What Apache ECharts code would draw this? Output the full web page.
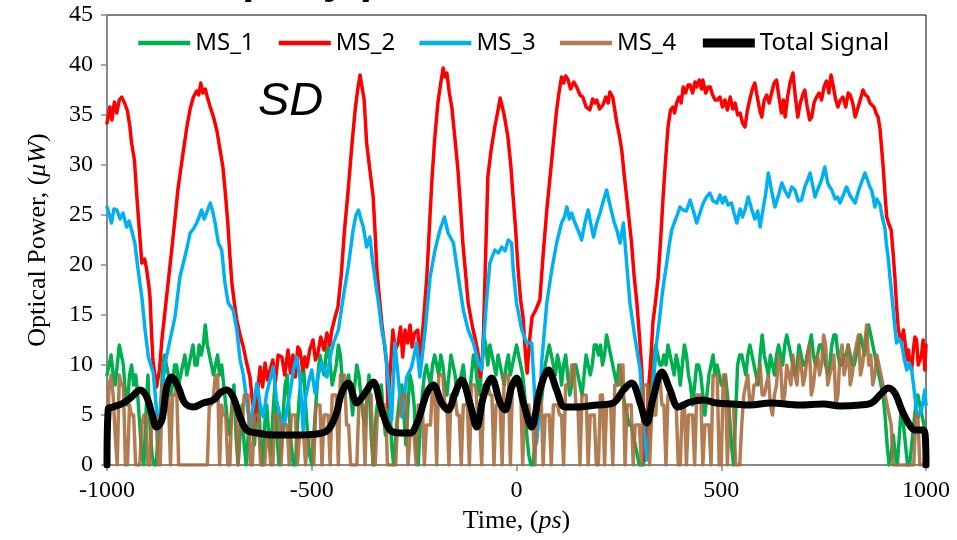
<!DOCTYPE html>
<html>
<head>
<meta charset="utf-8">
<script src="https://cdn.jsdelivr.net/npm/echarts@6/dist/echarts.min.js"></script>
<style>
  html, body { margin: 0; padding: 0; background: #fff; }
  #main { width: 957px; height: 540px; }
</style>
</head>
<body>
<div id="main"></div>
<script>
// time grid for the noisy traces (ps)
var gridStart = -1000;
var gridStep = 5;

// MS_1, read every 5 ps (first value at -1000, then one row per 100 ps)
var ms1Values = [9,
  10,11,9,8,10,12,11,10,7,6,9,10,8,9,7,4,1,0,5,9,
  4,1,0,0,3,5,9,11,10,9,7,8,10,10,8,9,10,11,9,10,
  11,12,10,10,12,11,12,14,12,11,10,9,10,11,9,10,8,6,4,3,
  6,8,3,0,3,6,2,0,3,5,4,2,5,7,2,0,4,6,3,1,
  5,8,3,0,2,5,8,9,5,2,0,0,4,7,9,10,6,3,1,0,
  3,6,9,11,10,9,11,12,10,8,9,10,12,11,8,7,8,9,7,5,
  8,10,9,7,5,4,7,9,3,0,4,6,7,8,5,3,5,7,2,0,
  3,5,7,8,5,2,6,9,8,6,2,0,4,7,9,10,9,8,10,11,
  10,9,11,10,8,7,9,11,10,9,7,8,9,10,8,6,7,9,11,10,
  8,7,10,13,12,10,12,11,10,9,11,10,9,8,10,11,9,10,11,12,
  11,10,9,7,3,1,0,0,2,3,5,6,8,10,11,12,11,10,9,11,
  10,8,10,11,9,7,8,10,10,9,8,7,9,11,10,9,10,12,12,11,
  12,10,11,13,12,11,10,9,8,10,9,7,6,5,4,4,3,2,1,0,
  0,0,2,4,7,9,11,12,11,10,10,11,10,12,11,10,9,11,10,8,
  10,12,11,9,8,6,8,10,10,9,7,5,7,9,10,11,9,10,9,8,
  8,9,7,5,2,0,5,10,11,11,10,9,11,12,11,10,9,8,11,13,
  11,10,9,11,10,9,11,12,11,10,12,13,12,11,10,9,10,12,11,10,
  10,11,12,13,11,10,11,12,12,11,10,9,10,12,13,13,11,10,10,11,
  11,12,11,10,10,11,12,13,12,11,13,14,13,12,11,10,9,8,7,5,
  2,0,1,3,1,0,3,6,4,2,0,0,2,4,6,7,6,5,4,3
];

// MS_4, read every 5 ps
var ms4Values = [0,
  8,9,7,3,0,9,8,8,0,0,6,5,5,0,0,0,4,5,5,0,
  0,5,5,5,0,0,8,8,7,7,0,7,7,8,0,0,0,0,0,0,
  0,0,0,0,0,0,0,0,0,6,6,7,9,9,0,6,5,5,0,0,
  6,6,6,0,4,4,7,7,7,0,0,5,5,5,0,0,0,3,3,0,
  0,5,5,5,0,4,4,4,0,5,5,5,0,3,3,3,0,3,3,3,
  0,6,6,6,0,5,5,5,0,7,7,7,0,9,9,9,4,4,0,0,
  0,0,6,6,6,0,7,7,7,0,0,5,5,6,6,6,0,0,0,0,
  0,5,5,7,7,7,0,3,3,3,0,6,6,6,0,4,4,4,8,8,
  0,9,9,9,6,6,0,7,7,7,5,5,0,6,6,6,0,8,8,8,
  5,5,0,8,8,8,7,7,0,6,6,6,0,9,9,9,0,8,8,8,
  8,8,0,6,6,6,4,4,0,7,7,7,0,5,5,5,0,6,6,6,
  5,5,0,8,8,8,10,10,6,6,0,7,7,7,0,5,5,5,0,0,
  7,7,0,6,6,6,0,8,8,8,10,10,0,6,6,6,0,4,4,4,
  0,8,8,8,0,5,5,5,9,9,6,6,0,7,7,7,6,6,0,0,
  6,6,0,5,5,5,0,7,7,7,0,4,4,4,0,9,9,9,0,0,
  9,9,0,6,6,6,0,0,0,4,7,8,9,6,6,8,8,9,10,7,
  7,8,9,6,5,7,8,11,10,6,7,10,9,8,11,9,8,11,10,8,
  9,11,12,7,8,10,11,9,10,13,12,8,9,10,11,6,7,11,12,9,
  10,12,8,9,11,12,13,9,10,12,14,10,11,8,9,11,10,9,8,7,
  6,5,4,0,0,0,0,0,0,0,0,0,0,0,5,5,0,0,0,0
];

// MS_2 [time, power]
var ms2Points = [
  [-1000,34.2],[-993,35.8],[-988,34.5],[-982,36.3],[-976,35.2],[-970,36.5],[-964,36.8],[-957,36.2],
  [-950,35.4],[-944,33.8],[-940,32.2],[-933,30.5],[-927,26.8],[-921,23.5],[-915,20.2],[-908,20.6],
  [-903,19.5],[-898,18],[-895,16.8],[-891,13],[-888,10.5],[-879,7.8],[-872,9.5],[-866,12.5],
  [-858,15.5],[-850,18.5],[-842,21.5],[-835,24.2],[-827,27.5],[-815,31],[-805,33.8],[-797,35.6],
  [-789,36.8],[-781,37.4],[-776,37],[-771,38.2],[-766,37.2],[-760,37.6],[-755,36.8],[-748,35.8],
  [-740,34.8],[-732,33.5],[-725,31.8],[-717,29.8],[-711,27.2],[-705,24.2],[-700,21],[-695,18.2],
  [-689,16.2],[-683,14.5],[-675,13],[-667,11.8],[-659,10.2],[-651,8.8],[-645,6.5],[-638,4.5],
  [-632,7.5],[-626,9.8],[-620,7.8],[-614,10.2],[-608,8.5],[-602,9.5],[-595,10.5],[-589,8.2],
  [-582,11],[-573,10.8],[-566,9],[-558,11.5],[-552,9.2],[-546,11],[-540,8.8],[-534,11.8],
  [-529,11.5],[-522,9.5],[-517,10.8],[-512,9.8],[-505,11.5],[-497,12.5],[-491,10.5],[-485,11.2],
  [-478,12.8],[-470,11.5],[-463,13.2],[-456,12],[-451,13.5],[-443,14.8],[-436,15.8],[-428,19],
  [-420,23.5],[-411,27.5],[-402,32],[-394,35.5],[-388,37.5],[-382,39],[-378,38],[-372,36.5],
  [-366,32.2],[-358,29.5],[-350,26.8],[-345,23],[-341,19.5],[-335,16.8],[-329,14.2],[-323,12.2],
  [-317,10.2],[-314,5.8],[-309,9],[-302,13.5],[-296,11.5],[-289,12.2],[-283,13.8],[-278,10.8],
  [-272,13.5],[-266,12.2],[-260,14],[-255,11.8],[-249,13.2],[-241,13.5],[-236,10.2],[-233,11.5],
  [-226,15],[-219,18.8],[-213,23.5],[-207,28.2],[-200,32.5],[-192,36.2],[-185,38.2],[-179,39.7],
  [-175,38.8],[-170,39.2],[-164,37.2],[-158,35.8],[-150,32.5],[-143,29.5],[-137,26],[-131,22.2],
  [-124,19],[-118,16.2],[-112,14.8],[-106,13.5],[-100,12.5],[-94,11.2],[-89,8.8],[-85,9.8],
  [-82,11.2],[-76,20],[-70,28.8],[-62,31.5],[-53,33.8],[-45,35.5],[-40,36.7],[-36,36.5],
  [-30,35],[-21,32.8],[-14,30],[-9,27.2],[-2,23.5],[4,19.5],[10,16.5],[16,14.8],
  [22,11],[26,9.2],[32,12.5],[38,14.8],[47,15.5],[57,16.5],[65,21],[74,25.5],
  [80,28],[86,30.5],[92,33],[98,35.5],[104,37.3],[110,38.8],[115,38.2],[120,38.9],
  [126,38.5],[132,37.6],[140,38.3],[147,37.8],[155,37],[162,36.8],[170,35.8],[179,35.5],
  [186,36.6],[192,36.2],[196,36.5],[203,35.6],[211,36],[218,36.8],[224,36.2],[228,37.3],
  [235,36.8],[240,35.5],[245,34.2],[251,33],[257,31.5],[263,29],[269,26.8],[275,24.5],
  [281,22.2],[287,19],[294,16.2],[300,13],[306,9.5],[310,5],[314,0.5],[318,3],
  [322,7.5],[326,9.5],[330,12],[333,14.2],[340,16.5],[346,18.8],[352,22.5],[358,26.8],
  [364,30.5],[370,33.8],[376,35.5],[382,35.8],[386,35.2],[391,36.2],[397,36.8],[402,36.2],
  [407,37.8],[413,37.2],[419,38],[424,38],[430,37.2],[436,38.3],[440,37.8],[446,38.5],
  [452,37.6],[455,38.5],[462,37.2],[468,37.8],[473,37.8],[479,37],[485,36.5],[490,36.5],
  [497,36.8],[503,35.8],[509,36.5],[515,35.5],[522,36.8],[528,35.6],[534,36.2],[540,35],
  [546,35.2],[552,34.2],[558,33.8],[564,35.5],[570,36.6],[576,37.6],[582,38.2],[588,36.8],
  [594,35.5],[599,34.8],[605,36.5],[611,37],[617,36.2],[623,37.2],[629,38.2],[635,38.5],
  [641,36.8],[647,35.2],[652,36.5],[656,34.8],[662,36.8],[668,38.2],[675,39.2],[681,36.8],
  [687,34.8],[693,36.2],[699,37],[704,37.5],[710,35.8],[716,34.5],[721,34.8],[727,36.3],
  [733,36.8],[739,37.2],[745,36.5],[751,37.8],[757,38.4],[763,37.2],[768,39],[773,38],
  [779,36.6],[785,35.8],[791,36.5],[797,36.8],[804,35.8],[810,37.2],[815,37],[821,36.2],
  [827,34.8],[833,35.6],[840,36.6],[846,37.5],[852,37],[858,36.8],[863,36.2],[867,36.2],
  [873,35.8],[878,35.2],[883,34.8],[888,33.5],[892,31.5],[896,29.5],[900,27],[904,24.8],
  [910,24],[915,23.5],[920,21],[924,18.8],[928,16],[932,13.8],[936,12.8],[941,12.5],
  [945,13.5],[949,12.2],[953,10.5],[957,11.5],[961,9.8],[965,9.5],[969,11.5],[973,12.8],
  [977,12.5],[981,10],[985,9.8],[989,11],[993,12.5],[997,9.5],[1000,12]
];

// MS_3 [time, power]
var ms3Points = [
  [-1000,25.8],[-994,25],[-989,24.2],[-983,25.6],[-976,25.5],[-968,24.6],[-961,25.2],[-952,23.8],
  [-946,24.4],[-940,23.5],[-932,22.2],[-924,19.5],[-915,16.8],[-907,13.5],[-899,10.8],[-887,9.2],
  [-879,5.5],[-875,2.8],[-866,7.2],[-858,10.2],[-846,12.5],[-834,14.8],[-822,18.8],[-810,20.8],
  [-803,22],[-797,23.2],[-789,23.6],[-781,24.2],[-775,24.8],[-769,25.5],[-763,24.6],[-757,25.2],
  [-748,26.2],[-742,25.4],[-736,24.2],[-728,22.2],[-720,21.5],[-712,18.2],[-704,16.2],[-692,15.5],
  [-683,13.5],[-675,10.5],[-667,9],[-659,6.5],[-651,3.8],[-642,6],[-634,8.2],[-626,6],
  [-618,4.8],[-610,7.2],[-602,8.5],[-594,9.8],[-586,6.5],[-578,5],[-569,3.5],[-561,5.5],
  [-553,7.2],[-545,9.5],[-537,10.8],[-529,8.8],[-521,3.5],[-516,6.5],[-508,8.2],[-500,9.5],
  [-492,7.2],[-484,9],[-476,10.2],[-469,9.5],[-463,8.8],[-455,10.8],[-447,12.2],[-435,13.5],
  [-423,16.8],[-411,19.8],[-399,23.5],[-392,25],[-386,25.5],[-380,24.6],[-374,23.8],[-366,21.8],
  [-358,22.8],[-352,20.6],[-346,18.8],[-337,16.2],[-329,13.5],[-321,11.8],[-313,8.2],[-305,4.5],
  [-297,12.2],[-289,8.8],[-280,4.8],[-268,8.8],[-256,9.8],[-244,12.2],[-236,8.8],[-223,13.5],
  [-211,18.8],[-199,21.5],[-187,23.5],[-181,24.2],[-176,24.8],[-167,23.2],[-154,22.2],[-142,18.8],
  [-130,15.5],[-118,13.5],[-105,12.2],[-93,10.2],[-85,9.5],[-73,16.5],[-65,20.2],[-53,21.5],
  [-44,21.2],[-36,21.8],[-28,21.4],[-20,22.5],[-12,22.2],[-8,19.5],[0,16.2],[13,13.5],
  [25,12.2],[37,12.2],[43,8],[49,2.2],[56,6],[62,10.5],[74,16.2],[86,19.5],
  [98,22.2],[110,24.2],[117,24.8],[123,25.8],[129,24.6],[135,25.2],[141,24.4],[147,23.8],
  [153,23.2],[159,22.5],[167,24.2],[175,25.5],[182,24],[188,22.8],[196,24.2],[204,25.2],
  [212,26.4],[220,27.5],[226,26.4],[233,25.2],[239,24.2],[245,23.5],[253,22.2],[261,24.2],
  [269,20.2],[277,16.2],[289,12.8],[302,9.5],[310,4.5],[318,0.5],[324,3],[330,5.5],
  [336,9],[342,12.2],[349,14.5],[355,16.8],[361,18.6],[367,20.2],[373,22],[379,23.5],
  [385,24.2],[391,24.8],[399,25.8],[407,25.5],[415,25.4],[424,26.5],[432,25.4],[440,24.2],
  [448,25.2],[456,26.2],[464,26.8],[472,27.2],[480,26.4],[489,26.2],[497,27],[503,26.2],
  [509,26.8],[517,26],[525,26.2],[531,25.2],[538,24.2],[546,25.6],[552,24.8],[558,25.5],
  [566,26.8],[574,25.6],[582,24.6],[589,25.4],[595,23.8],[602,25.6],[608,27],[615,29.2],
  [623,27.4],[631,25.8],[640,27],[648,28.2],[656,27.4],[664,26.8],[672,27.8],[680,27.5],
  [688,26.4],[696,26.5],[704,27.8],[710,28.4],[717,29.2],[723,28],[729,26.8],[736,27.6],
  [744,28.4],[753,29.8],[760,28.2],[765,27.8],[770,27.5],[778,26.6],[784,26.8],[790,26.2],
  [798,27],[806,27.8],[814,27],[820,26.6],[827,26.2],[835,27.4],[842,28.2],[851,29.2],
  [858,28.4],[863,27.8],[867,27.5],[871,26.8],[875,25.8],[880,26.6],[884,26.8],[888,26],
  [892,25],[896,24.8],[900,23.6],[903,22.2],[908,20.6],[912,18.8],[916,17.2],[920,15.5],
  [924,13.8],[928,12.2],[934,12.6],[940,12.2],[946,10.8],[953,9.5],[959,10.2],[965,9.5],
  [969,8.2],[973,6.8],[977,5.6],[981,4.8],[985,5.2],[989,5.5],[993,6.4],[997,7.5],[1000,6]
];

// Total Signal [time, power]
var totalPoints = [
  [-1000,0],[-997,5.6],[-985,5.8],[-960,6.2],[-940,6.8],[-919,7.5],[-903,6.8],[-891,5.2],
  [-879,3.8],[-866,4.5],[-854,7.8],[-842,8.8],[-826,7.8],[-810,6.2],[-789,5.8],[-765,6.2],
  [-740,6.5],[-724,7.2],[-708,7.5],[-692,6.8],[-675,4.8],[-659,3.5],[-634,3.2],[-594,3.0],
  [-529,3.0],[-468,3.3],[-443,4.8],[-427,7.2],[-411,8.2],[-390,6.2],[-370,7.2],[-350,8.3],
  [-329,5.5],[-309,3.5],[-284,3.2],[-260,3.2],[-240,4.5],[-219,7.2],[-203,8.0],[-183,6.2],
  [-167,5.5],[-150,7.2],[-134,8.5],[-114,6.2],[-97,3.8],[-81,6.8],[-61,8.7],[-40,6.2],
  [-28,5.5],[-12,7.8],[0,8.7],[17,6.2],[37,3.8],[57,7.5],[78,9.5],[98,7.5],
  [118,5.8],[147,5.8],[196,6.0],[236,6.2],[261,7.5],[281,8.2],[302,6.2],[318,4.2],
  [334,6.8],[355,9.3],[375,7.5],[395,5.8],[424,6.3],[456,6.5],[489,6.2],[530,6.1],
  [570,6.0],[620,6.2],[692,6.0],[750,6.1],[790,5.9],[840,6.0],[867,6.2],[892,7.2],
  [908,7.7],[924,7.2],[941,5.5],[957,4.2],[973,3.5],[993,3.5],[998,3],[1000,0]
];

var seriesNames = ['MS_1', 'MS_2', 'MS_3', 'MS_4', 'Total Signal'];
var seriesColors = ['#00B050', '#FF0000', '#00B0F0', '#A86B3C', '#000000'];
var legendWidths = [4.5, 4.5, 4.5, 4.5, 9];

function onGrid(values) {
  return values.map(function (v, i) { return [gridStart + i * gridStep, v]; });
}

var chart = echarts.init(document.getElementById('main'), null, { renderer: 'canvas' });

var serif = '"Liberation Serif", "Times New Roman", serif';

function lineSeries(idx, data, width, extra) {
  var s = {
    name: seriesNames[idx],
    type: 'line',
    data: data,
    showSymbol: false,
    symbol: 'none',
    color: seriesColors[idx],
    lineStyle: { color: seriesColors[idx], width: width, cap: 'round', join: 'round' },
    z: 2 + idx,
    animation: false
  };
  for (var k in extra) s[k] = extra[k];
  return s;
}

chart.setOption({
  animation: false,
  grid: {
    left: 107, right: 31, top: 15, bottom: 75,
    show: true, borderColor: '#000', borderWidth: 1, backgroundColor: '#fff'
  },
  legend: {
    top: 26,
    left: 131,
    itemWidth: 52,
    itemHeight: 14,
    itemGap: 22,
    itemStyle: { opacity: 0 },
    textStyle: { fontFamily: '"Noto Sans", sans-serif', fontSize: 24, color: '#000' },
    data: seriesNames.map(function (n, i) {
      return { name: n, lineStyle: { width: legendWidths[i], cap: 'butt', color: seriesColors[i] } };
    })
  },
  xAxis: {
    type: 'value',
    min: -1000, max: 1000, interval: 500,
    name: 'Time, ({i|ps})',
    nameLocation: 'middle',
    nameGap: 42,
    nameTextStyle: {
      fontFamily: serif, fontSize: 26, color: '#000',
      rich: { i: { fontFamily: serif, fontSize: 26, fontStyle: 'italic', color: '#000' } }
    },
    axisLine: { onZero: false, lineStyle: { color: '#8C8C8C', width: 1.5 } },
    axisTick: { show: true, inside: false, length: 6, lineStyle: { color: '#8C8C8C', width: 1.5 } },
    axisLabel: { fontFamily: serif, fontSize: 24, color: '#000', margin: 14,
      formatter: function (v) { return String(v); } },
    splitLine: { show: false }
  },
  yAxis: {
    type: 'value',
    min: 0, max: 45, interval: 5,
    name: 'Optical Power, ({i|μW})',
    nameLocation: 'middle',
    nameGap: 56,
    nameTextStyle: {
      fontFamily: serif, fontSize: 26, color: '#000',
      rich: { i: { fontFamily: serif, fontSize: 26, fontStyle: 'italic', color: '#000' } }
    },
    axisLine: { show: true, onZero: false, lineStyle: { color: '#8C8C8C', width: 1.5 } },
    axisTick: { show: true, inside: false, length: 6, lineStyle: { color: '#8C8C8C', width: 1.5 } },
    axisLabel: { fontFamily: serif, fontSize: 24, color: '#000', margin: 14 },
    splitLine: { show: false }
  },
  graphic: [
    {
      // cut-off heading above the chart, only the descenders show
      type: 'text', left: 246, top: -41, z: 20,
      style: { text: 'perly p', font: 'italic bold 44px "Liberation Sans", Arial, sans-serif', fill: '#000' }
    },
    {
      type: 'text', left: 258, top: 78, z: 20,
      style: { text: 'SD', font: 'italic 47px "Liberation Sans", Arial, sans-serif', fill: '#000' }
    }
  ],
  series: [
    lineSeries(0, onGrid(ms1Values), 3.5),
    lineSeries(1, ms2Points, 3.5),
    lineSeries(2, ms3Points, 3.5),
    lineSeries(3, onGrid(ms4Values), 3.5, { lineStyle: { color: seriesColors[3], width: 3.5, opacity: 0.88, join: 'round' } }),
    lineSeries(4, totalPoints, 7, { smooth: 0.35 })
  ]
});
</script>
</body>
</html>
